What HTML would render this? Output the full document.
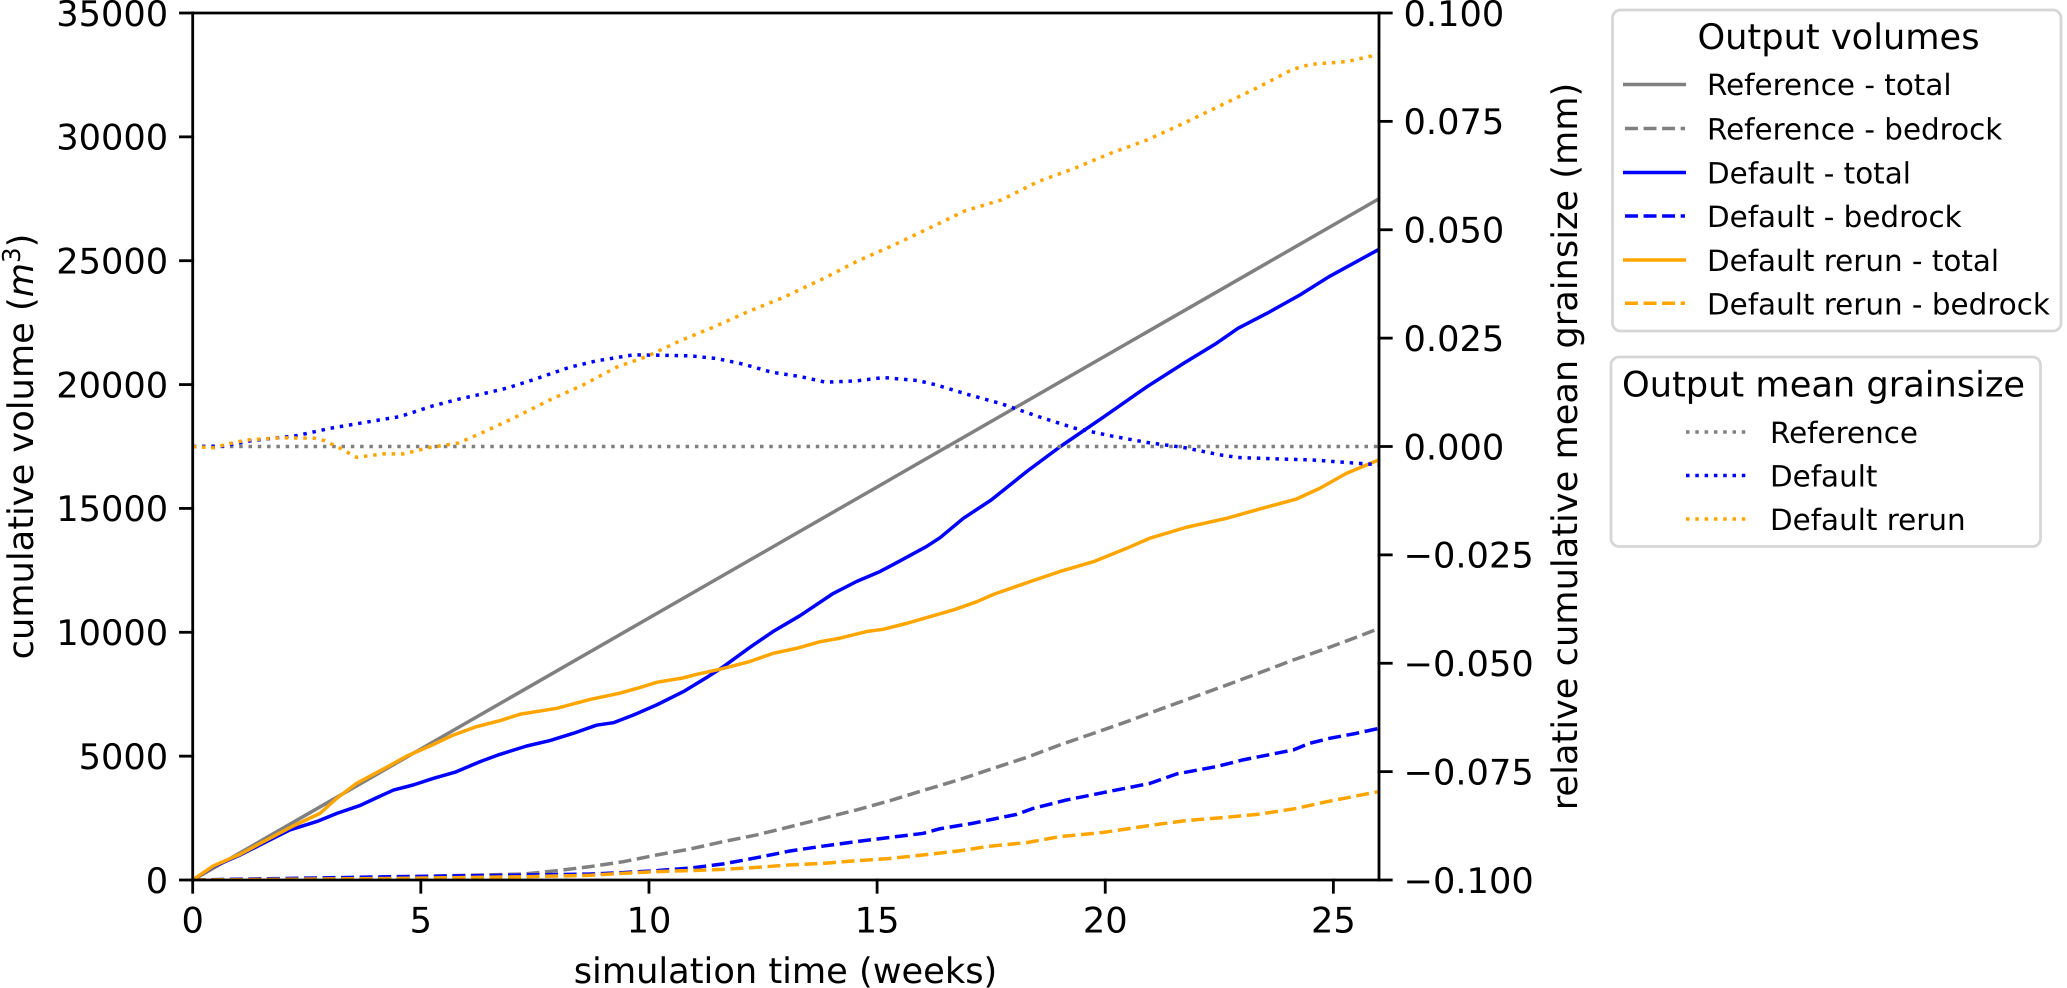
<!DOCTYPE html>
<html lang="en">
<head>
<meta charset="utf-8">
<title>Cumulative volume and mean grainsize</title>
<style>
html,body{margin:0;padding:0;background:#fff;}
svg{display:block;}
text{font-family:"DejaVu Sans","Liberation Sans",sans-serif;fill:#000;text-rendering:geometricPrecision;}
.tick{font-size:35.2px;}
.axis{font-size:35.2px;}
.ltitle{font-size:35.2px;}
.lab{font-size:29.4px;}
</style>
</head>
<body>
<svg id="chart" xmlns="http://www.w3.org/2000/svg" width="2067" height="988" viewBox="0 0 2067 988">
  <defs><clipPath id="plot-clip"><rect x="192.7" y="13" width="1186.3" height="867"/></clipPath></defs>
  <rect x="192.7" y="13" width="1186.3" height="867" fill="#fff"/>
  <g id="series" clip-path="url(#plot-clip)"></g>
  <g id="axes"></g>

  <text class="axis" x="785.5" y="983" text-anchor="middle">simulation time (weeks)</text>
  <text class="axis" transform="translate(33,446.5) rotate(-90)" text-anchor="middle">cumulative volume (<tspan font-style="italic" font-family="DejaVu Sans">m</tspan><tspan font-size="24.6px" dy="-13">3</tspan><tspan dy="13">)</tspan></text>
  <text class="axis" transform="translate(1577,446.5) rotate(-90)" text-anchor="middle">relative cumulative mean grainsize (mm)</text>

  <g>
    <rect x="1612.5" y="10" width="448.5" height="321" rx="8" fill="#fff" stroke="#d6d6d6" stroke-width="2.8"/>
    <text class="ltitle" x="1838.5" y="49" text-anchor="middle">Output volumes</text>
    <line x1="1623" x2="1686" y1="84.5" y2="84.5" stroke="#808080" stroke-width="3.5"/>
    <text class="lab" x="1707" y="95">Reference - total</text>
    <line x1="1625" x2="1685" y1="128.5" y2="128.5" stroke="#808080" stroke-width="3.5" stroke-dasharray="12.95 5.6"/>
    <text class="lab" x="1707" y="139.5">Reference - bedrock</text>
    <line x1="1623" x2="1686" y1="172.5" y2="172.5" stroke="#0000ff" stroke-width="3.5"/>
    <text class="lab" x="1707" y="183.5">Default - total</text>
    <line x1="1625" x2="1685" y1="216" y2="216" stroke="#0000ff" stroke-width="3.5" stroke-dasharray="12.95 5.6"/>
    <text class="lab" x="1707" y="227">Default - bedrock</text>
    <line x1="1623" x2="1686" y1="260" y2="260" stroke="#ffa500" stroke-width="3.5"/>
    <text class="lab" x="1707" y="271">Default rerun - total</text>
    <line x1="1625" x2="1685" y1="303.3" y2="303.3" stroke="#ffa500" stroke-width="3.5" stroke-dasharray="12.95 5.6"/>
    <text class="lab" x="1707" y="314.3">Default rerun - bedrock</text>
  </g>

  <g>
    <rect x="1611" y="357" width="429.5" height="189.5" rx="8" fill="#fff" stroke="#d6d6d6" stroke-width="2.8"/>
    <text class="ltitle" x="1622" y="396.7">Output mean grainsize</text>
    <line x1="1686" x2="1747" y1="432" y2="432" stroke="#808080" stroke-width="3.5" stroke-dasharray="3.5 5.8"/>
    <text class="lab" x="1770" y="443">Reference</text>
    <line x1="1686" x2="1747" y1="475.5" y2="475.5" stroke="#0000ff" stroke-width="3.5" stroke-dasharray="3.5 5.8"/>
    <text class="lab" x="1770" y="486.5">Default</text>
    <line x1="1686" x2="1747" y1="519" y2="519" stroke="#ffa500" stroke-width="3.5" stroke-dasharray="3.5 5.8"/>
    <text class="lab" x="1770" y="530">Default rerun</text>
  </g>
</svg>

<script>
const xTicks = [0, 5, 10, 15, 20, 25];
const volumeTicks = [0, 5000, 10000, 15000, 20000, 25000, 30000, 35000];
const grainTicks = [-0.1, -0.075, -0.05, -0.025, 0, 0.025, 0.05, 0.075, 0.1];

const refTotalWeeks = [0, 13, 26];
const refTotalVolume = [0, 13750, 27500];

const refBedrockWeeks = [0, 3.9, 7.25, 8, 8.71, 9.44, 10.17, 10.9, 11.63, 12.36, 13.09, 13.82, 14.55, 15.28, 16, 16.82, 17.55, 18.28, 19, 19.74, 20.47, 21.2, 21.93, 22.66, 23.39, 24.12, 24.85, 25.58, 26];
const refBedrockVolume = [0, 100, 240, 380, 540, 740, 1010, 1250, 1550, 1820, 2150, 2490, 2830, 3200, 3610, 4060, 4510, 4950, 5450, 5920, 6390, 6890, 7380, 7870, 8370, 8880, 9350, 9850, 10160];

const defTotalWeeks = [0, 0.45, 1.04, 1.62, 2.13, 2.75, 3.16, 3.67, 4.03, 4.4, 4.84, 5.27, 5.75, 6.3, 6.73, 7.32, 7.83, 8.34, 8.85, 9.22, 9.66, 10.17, 10.75, 11.26, 11.63, 12.21, 12.72, 13.31, 14.04, 14.55, 15.06, 15.5, 16.08, 16.38, 16.89, 17.5, 18.28, 19.01, 19.97, 20.92, 21.72, 22.44, 22.91, 23.55, 24.27, 24.9, 26];
const defTotalVolume = [0, 540, 1010, 1550, 2020, 2380, 2690, 3010, 3320, 3630, 3840, 4100, 4350, 4780, 5070, 5410, 5630, 5920, 6250, 6350, 6660, 7070, 7600, 8170, 8610, 9390, 10030, 10670, 11570, 12050, 12450, 12880, 13460, 13820, 14600, 15340, 16490, 17490, 18700, 19920, 20860, 21670, 22270, 22880, 23620, 24350, 25460];

const defBedrockWeeks = [0, 4.3, 7.25, 8.71, 9.44, 10.17, 10.9, 11.63, 12.36, 13.09, 13.82, 14.55, 15.28, 16, 16.38, 17.1, 18.06, 18.42, 19.15, 19.88, 20.98, 21.56, 22.44, 23.02, 24.12, 24.48, 24.92, 25.5, 26];
const defBedrockVolume = [0, 130, 200, 240, 300, 380, 480, 650, 900, 1170, 1370, 1550, 1720, 1880, 2070, 2290, 2650, 2890, 3230, 3500, 3900, 4280, 4580, 4850, 5250, 5520, 5720, 5920, 6120];

const rerunTotalWeeks = [0, 0.45, 1.04, 1.62, 2.2, 2.79, 3.16, 3.59, 4.25, 4.69, 5.2, 5.71, 6.22, 6.73, 7.17, 7.98, 8.71, 9.36, 9.8, 10.17, 10.75, 11.04, 11.56, 12.21, 12.72, 13.23, 13.75, 14.18, 14.77, 15.13, 15.65, 16.08, 16.67, 17.18, 17.55, 18.28, 19, 19.74, 20.47, 20.98, 21.78, 22.66, 23.39, 24.19, 24.7, 25.29, 26];
const rerunTotalVolume = [0, 565, 1040, 1615, 2180, 2690, 3300, 3900, 4550, 5000, 5410, 5850, 6190, 6430, 6690, 6930, 7290, 7540, 7770, 7980, 8160, 8300, 8510, 8820, 9150, 9350, 9620, 9760, 10030, 10120, 10360, 10590, 10900, 11230, 11530, 12000, 12450, 12850, 13390, 13800, 14240, 14600, 14980, 15380, 15810, 16420, 16960];

const rerunBedrockWeeks = [0, 4.3, 7.25, 8.71, 9.44, 10.17, 10.9, 11.63, 12.36, 13.09, 13.82, 14.55, 15.28, 16, 16.82, 17.4, 18.28, 19, 19.95, 21.2, 21.78, 22.66, 23.39, 24.19, 24.85, 26];
const rerunBedrockVolume = [0, 60, 130, 190, 270, 340, 380, 430, 510, 610, 670, 780, 870, 1010, 1180, 1350, 1510, 1750, 1920, 2260, 2400, 2530, 2660, 2890, 3160, 3570];

const refGrainWeeks = [0, 13, 26];
const refGrainValue = [0, 0, 0];

const defGrainWeeks = [0, 0.67, 1.26, 2.28, 3.01, 3.74, 4.54, 5.27, 5.86, 6.48, 6.88, 7.46, 8.05, 8.27, 8.85, 9.66, 10.24, 10.9, 11.48, 12.07, 12.69, 13.31, 13.87, 14.55, 15.14, 15.9, 16.3, 16.94, 17.73, 18.53, 19.33, 20.12, 20.92, 21.72, 22.51, 22.91, 23.71, 24.51, 25.3, 26];
const defGrainValue = [0, 0.0001, 0.0013, 0.0025, 0.0042, 0.0055, 0.0069, 0.0094, 0.011, 0.01245, 0.01345, 0.01538, 0.01753, 0.0183, 0.01976, 0.02114, 0.02106, 0.02091, 0.0203, 0.01899, 0.01714, 0.01614, 0.01484, 0.01514, 0.0159, 0.0152, 0.0142, 0.01215, 0.00984, 0.00692, 0.00423, 0.00246, 0.00092, -0.00023, -0.00192, -0.00254, -0.00284, -0.00308, -0.00369, -0.00423];

const rerunGrainWeeks = [0, 0.45, 0.82, 1.18, 1.91, 2.68, 2.9, 3.23, 3.59, 4.18, 4.62, 5.2, 5.82, 6.37, 7.1, 7.83, 8.56, 9.29, 9.95, 10.68, 11.41, 12.18, 12.94, 13.87, 14.55, 15.34, 16.14, 16.94, 17.73, 18.53, 19.33, 20.12, 20.92, 21.72, 22.51, 23.31, 24.11, 24.51, 25.3, 26];
const rerunGrainValue = [0, -0.0003, 0.0007, 0.0015, 0.002, 0.0019, 0.0013, -0.0004, -0.0025, -0.0017, -0.0017, -0.0002, 0.0008, 0.0033, 0.0069, 0.01076, 0.01422, 0.0183, 0.02076, 0.02437, 0.02752, 0.03114, 0.03436, 0.03898, 0.04267, 0.04636, 0.05035, 0.05443, 0.05689, 0.06112, 0.06419, 0.06765, 0.07073, 0.07457, 0.07857, 0.08264, 0.08702, 0.08817, 0.08879, 0.09048];

const SVG_NS = 'http://www.w3.org/2000/svg';
const plotLeft = 192.7, plotRight = 1379, plotTop = 13, plotBottom = 880;
const xScale = t => plotLeft + (t / 26) * (plotRight - plotLeft);
const volumeScale = v => plotBottom - (v / 35000) * (plotBottom - plotTop);
const grainScale = g => plotBottom - ((g + 0.1) / 0.2) * (plotBottom - plotTop);

const seriesLayer = document.getElementById('series');
const axesLayer = document.getElementById('axes');
const SOLID = 'none', DASH = '12.95 5.6', DOT = '3.5 5.8';

function drawLine(name, xs, ys, yFn, color, dash) {
  const d = xs.map((x, i) => (i ? 'L' : 'M') + xScale(x).toFixed(2) + ' ' + yFn(ys[i]).toFixed(2)).join('');
  const el = document.createElementNS(SVG_NS, 'path');
  
  
  el.setAttribute('d', d);
  el.setAttribute('fill', 'none');
  el.setAttribute('stroke', color);
  el.setAttribute('stroke-width', '3.5');
  el.setAttribute('stroke-linejoin', 'round');
  el.setAttribute('stroke-dasharray', dash);
  seriesLayer.appendChild(el);
}

drawLine('reference-total-line', refTotalWeeks, refTotalVolume, volumeScale, '#808080', SOLID);
drawLine('reference-bedrock-line', refBedrockWeeks, refBedrockVolume, volumeScale, '#808080', DASH);
drawLine('default-total-line', defTotalWeeks, defTotalVolume, volumeScale, '#0000ff', SOLID);
drawLine('default-bedrock-line', defBedrockWeeks, defBedrockVolume, volumeScale, '#0000ff', DASH);
drawLine('rerun-total-line', rerunTotalWeeks, rerunTotalVolume, volumeScale, '#ffa500', SOLID);
drawLine('rerun-bedrock-line', rerunBedrockWeeks, rerunBedrockVolume, volumeScale, '#ffa500', DASH);
drawLine('reference-grainsize-line', refGrainWeeks, refGrainValue, grainScale, '#808080', DOT);
drawLine('default-grainsize-line', defGrainWeeks, defGrainValue, grainScale, '#0000ff', DOT);
drawLine('rerun-grainsize-line', rerunGrainWeeks, rerunGrainValue, grainScale, '#ffa500', DOT);

function drawStroke(name, x1, y1, x2, y2) {
  const el = document.createElementNS(SVG_NS, 'line');
  
  
  el.setAttribute('x1', x1);
  el.setAttribute('y1', y1);
  el.setAttribute('x2', x2);
  el.setAttribute('y2', y2);
  el.setAttribute('stroke', '#000');
  el.setAttribute('stroke-width', '2.8');
  el.setAttribute('stroke-linecap', 'square');
  axesLayer.appendChild(el);
}

function drawLabel(name, x, y, anchor, str) {
  const el = document.createElementNS(SVG_NS, 'text');
  
  
  el.setAttribute('class', 'tick');
  el.setAttribute('x', x);
  el.setAttribute('y', y);
  el.setAttribute('text-anchor', anchor);
  el.textContent = str;
  axesLayer.appendChild(el);
}

const TICK = 12.25;
xTicks.forEach(t => {
  const x = xScale(t);
  drawStroke('x-tick', x, plotBottom, x, plotBottom + TICK);
  drawLabel('x-tick-label', x, 932.5, 'middle', String(t));
});
volumeTicks.forEach(v => {
  const y = volumeScale(v);
  drawStroke('left-y-tick', plotLeft - TICK, y, plotLeft, y);
  drawLabel('left-y-tick-label', plotLeft - TICK - 12.25, y + 12.8, 'end', String(v));
});
grainTicks.forEach(g => {
  const y = grainScale(g);
  drawStroke('right-y-tick', plotRight, y, plotRight + TICK, y);
  const str = (g < 0 ? '\u2212' : '') + Math.abs(g).toFixed(3);
  drawLabel('right-y-tick-label', plotRight + TICK + 12.25, y + 12.8, 'start', str);
});

drawStroke('left-spine', plotLeft, plotTop, plotLeft, plotBottom);
drawStroke('right-spine', plotRight, plotTop, plotRight, plotBottom);
drawStroke('top-spine', plotLeft, plotTop, plotRight, plotTop);
drawStroke('bottom-spine', plotLeft, plotBottom, plotRight, plotBottom);
</script>
</body>
</html>
